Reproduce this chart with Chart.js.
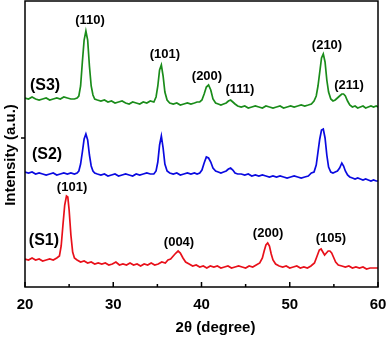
<!DOCTYPE html>
<html>
<head>
<meta charset="utf-8">
<script src="https://cdn.jsdelivr.net/npm/chart.js@4.4.1/dist/chart.umd.min.js"></script>
<style>
  body { margin: 0; background: #fff; }
  #wrap { width: 388px; height: 338px; position: relative; }
</style>
</head>
<body>
<div id="wrap"><canvas id="xrdChart"></canvas></div>
<script>
// XRD patterns, 2theta in degrees, intensity in arbitrary units (stacked)
const s1Angles = [
    20.0, 20.4, 20.8, 21.2, 21.6, 22.0, 22.4, 22.8, 23.2, 23.6,
    23.9, 24.1, 24.3, 24.5, 24.7, 24.85, 25.0, 25.2, 25.4, 25.6,
    25.9, 26.3, 26.7, 27.1, 27.5, 27.9, 28.3, 28.7, 29.1, 29.5,
    29.9, 30.3, 30.7, 31.1, 31.5, 31.9, 32.3, 32.7, 33.1, 33.5,
    33.9, 34.3, 34.7, 35.1, 35.5, 35.9, 36.2, 36.5, 36.8, 37.1,
    37.35, 37.6, 37.9, 38.2, 38.6, 39.0, 39.4, 39.8, 40.2, 40.6,
    41.0, 41.4, 41.8, 42.2, 42.6, 43.0, 43.4, 43.8, 44.2, 44.6,
    45.0, 45.4, 45.8, 46.2, 46.6, 46.9, 47.1, 47.3, 47.5, 47.7,
    47.9, 48.1, 48.4, 48.8, 49.2, 49.6, 50.0, 50.4, 50.8, 51.2,
    51.6, 52.0, 52.4, 52.8, 53.1, 53.35, 53.55, 53.75, 53.95, 54.15,
    54.35, 54.55, 54.75, 54.95, 55.2, 55.5, 55.9, 56.3, 56.7, 57.1,
    57.5, 57.9, 58.3, 58.7, 59.1, 59.5, 60.0
];
const s1Values = [
    28, 27, 29, 27, 28, 26, 27, 28, 27, 29,
    31, 41, 62, 82, 91, 90, 77, 52, 35, 29,
    27, 25, 26, 24, 25, 23, 24, 23, 24, 22,
    23, 25, 22, 23, 22, 24, 22, 23, 21, 23,
    22, 24, 22, 23, 25, 24, 27, 28, 31, 34,
    36, 34, 29, 25, 23, 21, 22, 20, 21, 19,
    21, 20, 21, 19, 20, 21, 19, 20, 21, 20,
    19, 21, 20, 22, 24, 29, 36, 42, 44, 41,
    33, 27, 23, 21, 20, 21, 19, 20, 21, 19,
    20, 19, 21, 24, 31, 37, 38, 35, 32, 34,
    36, 36, 34, 30, 25, 22, 21, 20, 21, 19,
    20, 19, 20, 18, 19, 19, 19
];

// S2 and S3 were read at the same angles
const s23Angles = [
    20.0, 20.4, 20.8, 21.2, 21.6, 22.0, 22.4, 22.8, 23.2, 23.6, 24.0, 24.4, 24.8, 25.2, 25.6,
    25.9, 26.1, 26.3, 26.5, 26.7, 26.9, 27.1, 27.3, 27.5, 27.7, 27.9, 28.2,
    28.6, 29.0, 29.4, 29.8, 30.2, 30.6, 31.0, 31.4, 31.8, 32.2, 32.6, 33.0, 33.4, 33.8, 34.2,
    34.6, 34.85, 35.05, 35.25, 35.45, 35.65, 35.85, 36.1, 36.4,
    36.8, 37.2, 37.6, 38.0, 38.4, 38.8, 39.2, 39.5,
    39.8, 40.05, 40.3, 40.55, 40.8, 41.05, 41.3, 41.6, 41.9, 42.2, 42.5, 42.8, 43.05, 43.3, 43.55, 43.8, 44.1,
    44.5, 44.9, 45.3, 45.7, 46.1, 46.5, 46.9, 47.3, 47.7, 48.1, 48.5, 48.9, 49.3, 49.7, 50.1, 50.5, 50.9, 51.3, 51.7,
    52.1, 52.45, 52.75, 53.0, 53.2, 53.4, 53.6, 53.8, 54.0, 54.2, 54.4, 54.65, 54.9, 55.15, 55.4, 55.65,
    55.9, 56.1, 56.3, 56.55, 56.8, 57.1, 57.4, 57.7, 58.0, 58.3, 58.6, 58.9, 59.2, 59.5, 59.8, 60.0
];
const s2Values = [
    115, 114, 115, 113, 114, 113, 112, 113, 114, 112, 113, 114, 113, 114, 113,
    114, 116, 123, 135, 148, 153, 147, 132, 121, 116, 114, 113,
    112, 113, 111, 112, 113, 111, 112, 113, 112, 111, 113, 112, 113, 114, 113,
    113, 116, 125, 142, 151, 139, 123, 116, 114,
    113, 114, 112, 113, 114, 113, 114, 113,
    114, 117, 124, 130, 129, 125, 119, 116, 115, 114, 115, 116, 118, 119, 117, 114, 113,
    113, 112, 113, 111, 112, 111, 112, 111, 110, 111, 110, 111, 110, 109, 110, 111, 110, 109, 110,
    111, 114, 115, 122, 135, 148, 157, 158, 149, 132, 120, 115, 114, 115, 116, 119,
    124, 121, 116, 112, 110, 109, 108, 109, 108, 107, 108, 107, 106, 107, 106, 106
];
const s3Values = [
    189, 188, 190, 188, 187, 188, 189, 187, 188, 189, 188, 190, 189, 188, 188,
    189, 191, 201, 225, 247, 256, 247, 221, 201, 192, 188, 187,
    186, 187, 185, 186, 184, 185, 186, 184, 183, 185, 184, 183, 185, 184, 186,
    185, 190, 201, 217, 222, 211, 195, 187, 184,
    183, 184, 182, 183, 184, 183, 184, 185,
    185, 187, 193, 200, 202, 197, 188, 184, 183, 182, 183, 184, 186, 187, 185, 183, 181,
    180, 181, 179, 180, 181, 180, 179, 181, 180, 179, 180, 181, 179, 180, 181, 180, 181, 182, 181,
    182, 183, 186, 191, 201, 215, 229, 233, 225, 207, 195, 188, 186, 187, 189, 191,
    193, 193, 191, 186, 182, 180, 181, 179, 180, 181, 179, 180, 181, 180, 181, 180
];

const seriesNames = ['(S1)', '(S2)', '(S3)'];
const seriesColors = ['#e8101a', '#0a0ae0', '#1a8c1a'];
const seriesLabelAngles = [22.15, 22.5, 22.27];
const seriesLabelLevels = [46, 132, 201];

const peakTexts = ['(110)', '(101)', '(200)', '(111)', '(210)', '(211)', '(101)', '(004)', '(200)', '(105)'];
const peakAngles = [27.37, 35.86, 40.62, 44.36, 54.22, 56.71, 25.33, 37.45, 47.54, 54.67];
const peakLevels = [267, 233, 211, 198, 242, 202, 100, 45, 54, 49];

const xMajorTicks = [20, 30, 40, 50, 60];
const xMinorTicks = [25, 35, 45, 55];
const yTick = 149;

const toPoints = (angles, values) => angles.map((a, i) => ({ x: a, y: values[i] }));

const boldFont = size => 'bold ' + size + 'px "Liberation Sans", Arial, sans-serif';

// frame, inward ticks, labels and annotations
const decorations = {
    id: 'decorations',
    afterDatasetsDraw(chart) {
        const { ctx, chartArea: a } = chart;
        const x = chart.scales.x;
        const y = chart.scales.y;
        ctx.save();
        ctx.strokeStyle = '#000';
        ctx.lineWidth = 1.5;
        ctx.strokeRect(a.left, a.top, a.right - a.left, a.bottom - a.top);

        ctx.beginPath();
        xMajorTicks.forEach(v => {
            const px = x.getPixelForValue(v);
            ctx.moveTo(px, a.bottom);
            ctx.lineTo(px, a.bottom - 5);
        });
        xMinorTicks.forEach(v => {
            const px = x.getPixelForValue(v);
            ctx.moveTo(px, a.bottom);
            ctx.lineTo(px, a.bottom - 3);
        });
        const ty = y.getPixelForValue(yTick);
        ctx.moveTo(a.left, ty);
        ctx.lineTo(a.left - 4, ty);
        ctx.stroke();

        ctx.fillStyle = '#000';
        ctx.textAlign = 'center';
        ctx.textBaseline = 'middle';
        ctx.font = boldFont(15);
        xMajorTicks.forEach(v => ctx.fillText(String(v), x.getPixelForValue(v), a.bottom + 18));
        ctx.fillText('2θ (degree)', (a.left + a.right) / 2 + 14, a.bottom + 41);

        ctx.save();
        ctx.translate(11, 155);
        ctx.rotate(-Math.PI / 2);
        ctx.fillText('Intensity (a.u.)', 0, 0);
        ctx.restore();

        ctx.font = boldFont(13);
        peakTexts.forEach((t, i) => {
            ctx.fillText(t, x.getPixelForValue(peakAngles[i]), y.getPixelForValue(peakLevels[i]));
        });

        ctx.font = boldFont(16);
        seriesNames.forEach((t, i) => {
            ctx.fillText(t, x.getPixelForValue(seriesLabelAngles[i]), y.getPixelForValue(seriesLabelLevels[i]));
        });
        ctx.restore();
    }
};

const ctx = document.getElementById('xrdChart').getContext('2d');
const xrdChart = new Chart(ctx, {
    type: 'line',
    data: {
        datasets: [
            { label: seriesNames[0], data: toPoints(s1Angles, s1Values), borderColor: seriesColors[0] },
            { label: seriesNames[1], data: toPoints(s23Angles, s2Values), borderColor: seriesColors[1] },
            { label: seriesNames[2], data: toPoints(s23Angles, s3Values), borderColor: seriesColors[2] }
        ]
    },
    options: {
        responsive: true,
        maintainAspectRatio: false,
        animation: false,
        layout: { padding: { left: 25, right: 10, top: 1, bottom: 51 } },
        elements: {
            line: { borderWidth: 1.7, tension: 0, fill: false },
            point: { radius: 0 }
        },
        scales: {
            x: { type: 'linear', min: 20, max: 60, display: false },
            y: { type: 'linear', min: 0, max: 286, display: false }
        },
        plugins: {
            legend: { display: false },
            tooltip: { enabled: false }
        }
    },
    plugins: [decorations]
});
</script>
</body>
</html>
